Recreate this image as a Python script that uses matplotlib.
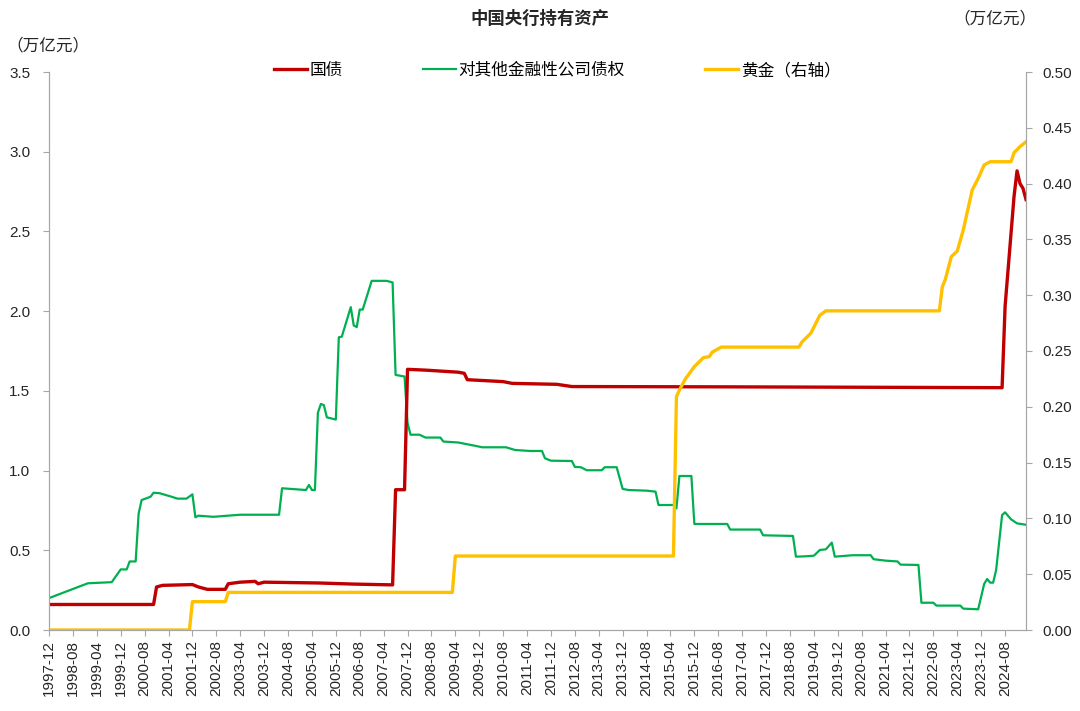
import matplotlib
matplotlib.use("Agg")
import matplotlib.pyplot as plt
from matplotlib.ticker import FormatStrFormatter, MultipleLocator

plt.rcParams['font.family'] = ['Liberation Sans', 'Noto Sans CJK SC']

# 国债 (left axis, 万亿元)
bond_dates = ["1997-12", "2000-11", "2000-12", "2001-02", "2001-12", "2002-02", "2002-05",
              "2002-11", "2002-12", "2003-04", "2003-09", "2003-10", "2003-12", "2005-06",
              "2006-06", "2007-07", "2007-08", "2007-11", "2007-12", "2008-06", "2009-05",
              "2009-07", "2009-08", "2010-08", "2010-11", "2012-02", "2012-07", "2017-02",
              "2024-07", "2024-08", "2024-09", "2024-10", "2024-11", "2024-12", "2025-01",
              "2025-02", "2025-03"]
bond_vals = [0.16, 0.16, 0.27, 0.28, 0.285, 0.27, 0.255,
             0.255, 0.29, 0.30, 0.305, 0.29, 0.30, 0.295,
             0.288, 0.283, 0.88, 0.88, 1.635, 1.63, 1.617,
             1.61, 1.57, 1.558, 1.547, 1.541, 1.527, 1.525,
             1.52, 2.03, 2.26, 2.49, 2.72, 2.88, 2.80,
             2.77, 2.70]

# 对其他金融性公司债权 (left axis)
claim_dates = ["1997-12", "1999-01", "1999-09", "1999-12", "2000-02", "2000-03", "2000-05",
               "2000-06", "2000-07", "2000-10", "2000-11", "2001-01", "2001-03", "2001-05",
               "2001-07", "2001-10", "2001-12", "2002-01", "2002-02", "2002-07", "2003-04",
               "2004-05", "2004-06", "2005-02", "2005-03", "2005-04", "2005-05", "2005-06",
               "2005-07", "2005-08", "2005-09", "2005-12", "2006-01", "2006-02", "2006-05",
               "2006-06", "2006-07", "2006-08", "2006-09", "2006-12", "2007-05", "2007-07",
               "2007-08", "2007-11", "2007-12", "2008-01", "2008-04", "2008-06", "2008-11",
               "2008-12", "2009-05", "2009-11", "2010-01", "2010-09", "2010-12", "2011-05",
               "2011-09", "2011-10", "2011-12", "2012-07", "2012-08", "2012-10", "2012-12",
               "2013-05", "2013-06", "2013-10", "2013-12", "2014-02", "2014-08", "2014-11",
               "2014-12", "2015-05", "2015-06", "2015-07", "2015-11", "2015-12", "2016-11",
               "2016-12", "2017-10", "2017-11", "2018-09", "2018-10", "2019-01", "2019-04",
               "2019-06", "2019-08", "2019-10", "2019-11", "2020-05", "2020-11", "2020-12",
               "2021-04", "2021-08", "2021-09", "2022-03", "2022-04", "2022-08", "2022-09",
               "2023-05", "2023-06", "2023-11", "2024-01", "2024-02", "2024-03", "2024-04",
               "2024-05", "2024-07", "2024-08", "2024-10", "2024-12", "2025-03"]
claim_vals = [0.20, 0.293, 0.30, 0.38, 0.38, 0.43, 0.43,
              0.73, 0.815, 0.836, 0.861, 0.858, 0.847, 0.836,
              0.824, 0.824, 0.851, 0.707, 0.717, 0.71, 0.723,
              0.723, 0.889, 0.878, 0.91, 0.878, 0.878, 1.363,
              1.418, 1.41, 1.334, 1.32, 1.836, 1.84, 2.025,
              1.91, 1.90, 2.01, 2.01, 2.19, 2.19, 2.18,
              1.60, 1.59, 1.30, 1.225, 1.225, 1.207, 1.207,
              1.182, 1.176, 1.154, 1.146, 1.146, 1.129, 1.123,
              1.123, 1.077, 1.062, 1.06, 1.023, 1.021, 1.002,
              1.002, 1.021, 1.021, 0.885, 0.878, 0.874, 0.868,
              0.784, 0.784, 0.763, 0.966, 0.966, 0.665, 0.665,
              0.63, 0.63, 0.594, 0.59, 0.46, 0.462, 0.466,
              0.502, 0.506, 0.548, 0.46, 0.469, 0.469, 0.444,
              0.435, 0.43, 0.41, 0.408, 0.171, 0.171, 0.153,
              0.153, 0.134, 0.13, 0.289, 0.32, 0.297, 0.297,
              0.376, 0.721, 0.738, 0.694, 0.669, 0.66]

# 黄金 (right axis)
gold_dates = ["1997-12", "2001-11", "2001-12", "2002-11", "2002-12", "2009-03", "2009-04",
              "2015-05", "2015-06", "2015-07", "2015-09", "2015-12", "2016-03", "2016-05",
              "2016-06", "2016-09", "2018-11", "2018-12", "2019-03", "2019-06", "2019-08",
              "2022-10", "2022-11", "2022-12", "2023-02", "2023-04", "2023-06", "2023-09",
              "2023-11", "2024-01", "2024-03", "2024-10", "2024-11", "2025-01", "2025-03"]
gold_vals = [0.0, 0.0, 0.0254, 0.0254, 0.0337, 0.0337, 0.0663,
             0.0663, 0.209, 0.215, 0.225, 0.236, 0.244, 0.245,
             0.249, 0.2535, 0.2535, 0.258, 0.266, 0.282, 0.286,
             0.286, 0.3076, 0.3142, 0.3345, 0.3396, 0.3584, 0.3943,
             0.4047, 0.4167, 0.4196, 0.4196, 0.4277, 0.4331, 0.4375]


def month_idx(s):
    y, m = s.split("-")
    return (int(y) - 1997) * 12 + int(m) - 12


def month_label(i):
    t = 1997 * 12 + 11 + i
    return "%d-%02d" % (t // 12, t % 12 + 1)


fig = plt.figure(figsize=(10.8, 7.11), dpi=100)
ax = fig.add_axes([49 / 1080, 1 - 630 / 711, (1026 - 49) / 1080, (630 - 72) / 711])
ax2 = ax.twinx()

red, green, gold = "#C00000", "#00B050", "#FFC000"
axis_c = "#A6A6A6"

l1, = ax.plot([month_idx(d) for d in claim_dates], claim_vals, color=green, lw=1.6,
              label="对其他金融性公司债权")
l0, = ax.plot([month_idx(d) for d in bond_dates], bond_vals, color=red, lw=2.4, label="国债")
l2, = ax2.plot([month_idx(d) for d in gold_dates], gold_vals, color=gold, lw=2.4,
               label="黄金（右轴）")

last = month_idx("2025-03")
ax.set_xlim(0, last)
ax.set_ylim(0, 3.5)
ax2.set_ylim(0, 0.5)
ax.yaxis.set_major_locator(MultipleLocator(0.5))
ax.yaxis.set_major_formatter(FormatStrFormatter("%.1f"))
ax2.yaxis.set_major_locator(MultipleLocator(0.05))
ax2.yaxis.set_major_formatter(FormatStrFormatter("%.2f"))

ticks = list(range(0, last + 1, 8))
ax.set_xticks(ticks)
ax.set_xticklabels([month_label(t) for t in ticks], rotation=90)

for a in (ax, ax2):
    a.spines["top"].set_visible(False)
    for s in ("left", "right", "bottom"):
        a.spines[s].set_color(axis_c)
    a.tick_params(colors=axis_c, labelcolor="#262626", labelsize=11, length=4, direction="out")
ax.tick_params(axis="y", pad=9.5)
ax2.tick_params(axis="y", pad=8)

fig.text(540 / 1080, 1 - 18 / 711, "中国央行持有资产", ha="center", va="center",
         fontsize=12.5, fontweight="bold", color="#262626")
fig.text(48 / 1080, 1 - 45 / 711, "（万亿元）", ha="center", va="center",
         fontsize=12, color="#262626")
fig.text(995 / 1080, 1 - 18 / 711, "（万亿元）", ha="center", va="center",
         fontsize=12, color="#262626")

fig.legend(handles=[l0, l1, l2], loc="center", bbox_to_anchor=(557 / 1080, 1 - 70 / 711),
           ncol=3, frameon=False, fontsize=12, handlelength=2.0, handletextpad=0.15,
           columnspacing=4.8)

fig.savefig("out.png", dpi=100)
